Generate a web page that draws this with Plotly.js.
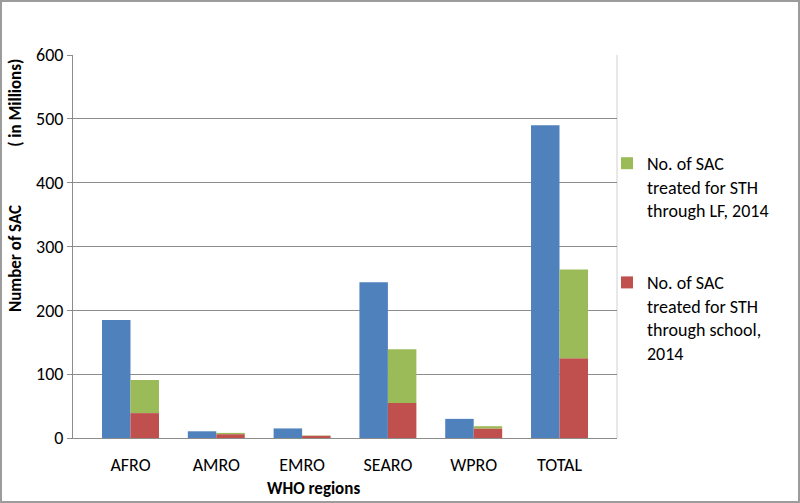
<!DOCTYPE html>
<html>
<head>
<meta charset="utf-8">
<script src="https://cdn.plot.ly/plotly-3.0.1.min.js"></script>
<style>
  html, body { margin: 0; padding: 0; background: #fff; }
  #wrap { position: relative; width: 800px; height: 503px; }
  #chart { position: absolute; left: 0; top: 0; width: 800px; height: 503px; }
  #frame { position: absolute; left: 0; top: 0; width: 800px; height: 503px; box-sizing: border-box; border: 2px solid #9c9c9c; pointer-events: none; }
</style>
</head>
<body>
<div id="wrap"><div id="chart"></div><div id="frame"></div></div>
<script>
const categories = ['AFRO', 'AMRO', 'EMRO', 'SEARO', 'WPRO', 'TOTAL'];
const requiringValues = [185, 10.5, 15, 244, 30, 490];
const schoolValues = [39, 6, 3.5, 55, 15, 125];
const lfValues = [52, 2, 0.5, 84, 3.5, 139];

const seriesNames = {
  requiring: 'No. of SAC requiring PC for STH, 2014'
};
const legendNames = {
  lf: 'No. of SAC<br>treated for STH<br>through LF, 2014',
  school: 'No. of SAC<br>treated for STH<br>through school,<br>2014'
};

const FONT = 'Carlito, Lato, "Liberation Sans", sans-serif';

const traces = [
  {
    type: 'bar', name: seriesNames.requiring, x: categories, y: requiringValues,
    offsetgroup: 'a', marker: { color: '#4F81BD' }, showlegend: false
  },
  {
    type: 'bar', name: legendNames.school, x: categories, y: schoolValues,
    offsetgroup: 'b', marker: { color: '#C0504D' }, legendgroup: 'g2', legendrank: 2
  },
  {
    type: 'bar', name: legendNames.lf, x: categories, y: lfValues, base: schoolValues,
    offsetgroup: 'b', marker: { color: '#9BBB59' }, legendgroup: 'g1', legendrank: 1
  }
];

const layout = {
  width: 800, height: 503,
  margin: { l: 73, r: 183, t: 55, b: 65 },
  paper_bgcolor: '#ffffff', plot_bgcolor: '#ffffff',
  font: { family: FONT, size: 18, color: '#000000' },
  barmode: 'group', bargap: 0.336, bargroupgap: 0,
  xaxis: {
    type: 'category', range: [-0.67, 5.67], fixedrange: true,
    showline: true, linecolor: '#8c8c8c', linewidth: 1,
    ticks: '', showgrid: false, zeroline: false,
    tickfont: { family: FONT, size: 18, color: '#000' },
    ticklabelstandoff: 10
  },
  yaxis: {
    range: [0, 600], dtick: 100, fixedrange: true,
    showline: true, linecolor: '#8c8c8c', linewidth: 1,
    ticks: 'outside', ticklen: 5, tickcolor: '#8c8c8c',
    showgrid: true, gridcolor: '#8c8c8c', gridwidth: 1, zeroline: false,
    tickfont: { family: FONT, size: 18, color: '#000' }
  },
  legend: {
    x: 0.9816, xanchor: 'left', y: 0.765, yanchor: 'top',
    traceorder: 'grouped', tracegroupgap: 46, itemwidth: 30, valign: 'top',
    font: { family: FONT, size: 18, color: '#000' },
    bgcolor: 'rgba(0,0,0,0)'
  },
  shapes: [
    { type: 'line', xref: 'paper', yref: 'paper', x0: 1, x1: 1, y0: 0, y1: 1,
      line: { color: '#d0d0d0', width: 1 }, layer: 'below' }
  ],
  annotations: [
    { text: '<b>Number of SAC</b>', textangle: -90, showarrow: false,
      xref: 'paper', yref: 'paper', x: -0.1048, y: 0.47, xanchor: 'center', yanchor: 'middle',
      font: { family: FONT, size: 17, color: '#000' } },
    { text: '<b>( in Millions)</b>', textangle: -90, showarrow: false,
      xref: 'paper', yref: 'paper', x: -0.1048, y: 0.875, xanchor: 'center', yanchor: 'middle',
      font: { family: FONT, size: 17, color: '#000' } },
    { text: '<b>WHO regions</b>', showarrow: false,
      xref: 'paper', yref: 'paper', x: (313 - 73) / 544, y: (438 - 488) / 383,
      xanchor: 'center', yanchor: 'middle',
      font: { family: FONT, size: 17, color: '#000' } }
  ]
};

Plotly.newPlot('chart', traces, layout, { displayModeBar: false, staticPlot: true });
</script>
</body>
</html>
